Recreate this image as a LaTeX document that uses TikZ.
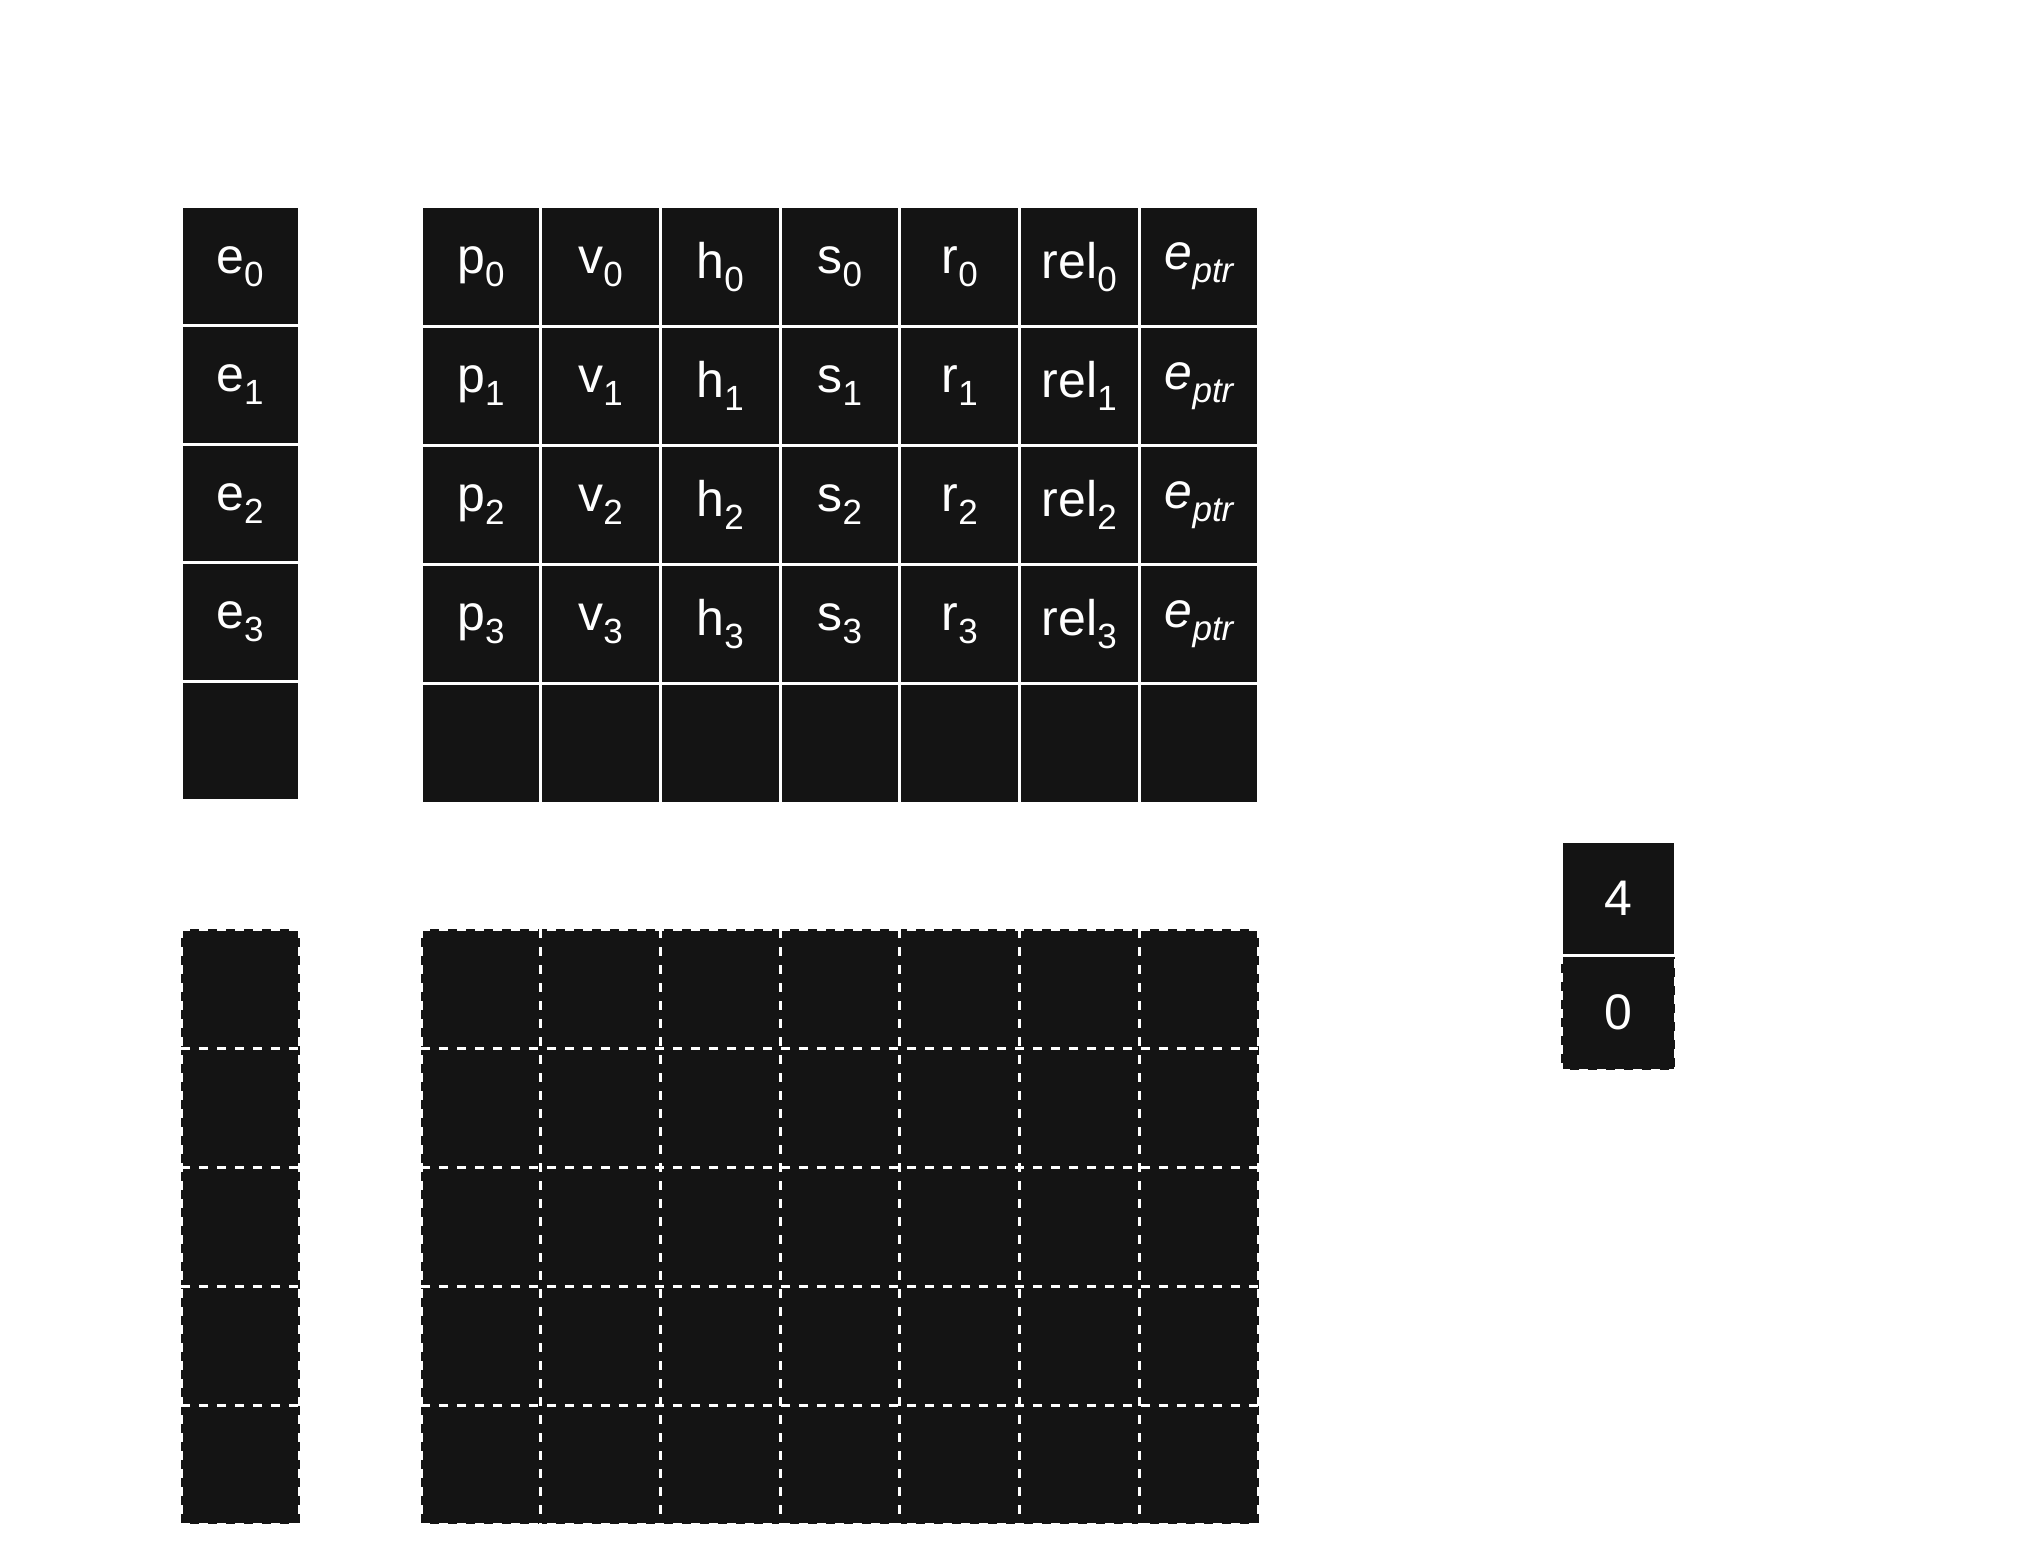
\documentclass[tikz,border=0pt]{standalone}
\usepackage{fontspec}
\setmainfont{Liberation Sans}
\definecolor{cellbk}{HTML}{141414}
\newcommand\sbs[1]{\raisebox{-0.26em}{\fontsize{17.5}{20}\selectfont #1}}
\begin{document}
\begin{tikzpicture}[x=0.5pt,y=-0.5pt,
  cell/.style={rectangle,fill=cellbk,draw=white,line width=1.5pt,inner sep=0pt,
    minimum width=59.85pt,minimum height=59.6pt,text=white,font=\fontsize{25}{30}\selectfont},
  ecell/.style={cell,minimum width=59pt,minimum height=59.3pt},
  bgcell/.style={rectangle,fill=cellbk,inner sep=0pt,minimum width=59.85pt,minimum height=59.5pt},
  ebgcell/.style={bgcell,minimum width=59.5pt},
  gridline/.style={draw=white,line width=1.5pt,dash pattern=on 4.5pt off 4.5pt},
  cntbox/.style={cell,minimum width=57pt,minimum height=57.25pt}]
\useasboundingbox (0,0) rectangle (2043,1557);
% upper e column
\foreach \j in {0,...,3}
  \node[ecell] (e-\j) at (240,{207+118.6*(\j+0.5)}) {e\sbs{\j}};
\node[ecell] (e-4) at (240,{207+118.6*4.5}) {};
% upper main grid
\foreach \j in {0,...,3} {
  \foreach [count=\i from 0] \l in {p,v,h,s,r,rel}
    \node[cell] (m-\j-\i) at ({421+119.7*(\i+0.5)},{207+119.2*(\j+0.5)}) {\l\sbs{\j}};
  \node[cell] (m-\j-6) at ({421+119.7*6.5},{207+119.2*(\j+0.5)}) {\itshape e\sbs{ptr}};
}
\foreach \i in {0,...,6}
  \node[cell] (m-4-\i) at ({421+119.7*(\i+0.5)},{207+119.2*4.5}) {};
% lower e column
\foreach \j in {0,...,4}
  \node[ebgcell] (le-\j) at (240,{929+119*(\j+0.5)}) {};
\foreach \k in {0,...,5}
  \draw[gridline] (181,{929+119*\k}) -- (299,{929+119*\k});
\foreach \x in {181,299}
  \draw[gridline] (\x,929) -- (\x,1524);
% lower main grid
\foreach \j in {0,...,4}
  \foreach \i in {0,...,6}
    \node[bgcell] (lm-\j-\i) at ({421+119.7*(\i+0.5)},{929+119*(\j+0.5)}) {};
\foreach \k in {0,...,5}
  \draw[gridline] (421,{929+119*\k}) -- (1259,{929+119*\k});
\foreach \k in {0,...,7}
  \draw[gridline] ({421+119.7*\k},929) -- ({421+119.7*\k},1524);
% counter boxes
\node[cntbox,dash pattern=on 4.5pt off 4.5pt] (c0) at (1618,1012.75) {0};
\node[cntbox] (c4) at (1618,898.25) {4};
\end{tikzpicture}
\end{document}
